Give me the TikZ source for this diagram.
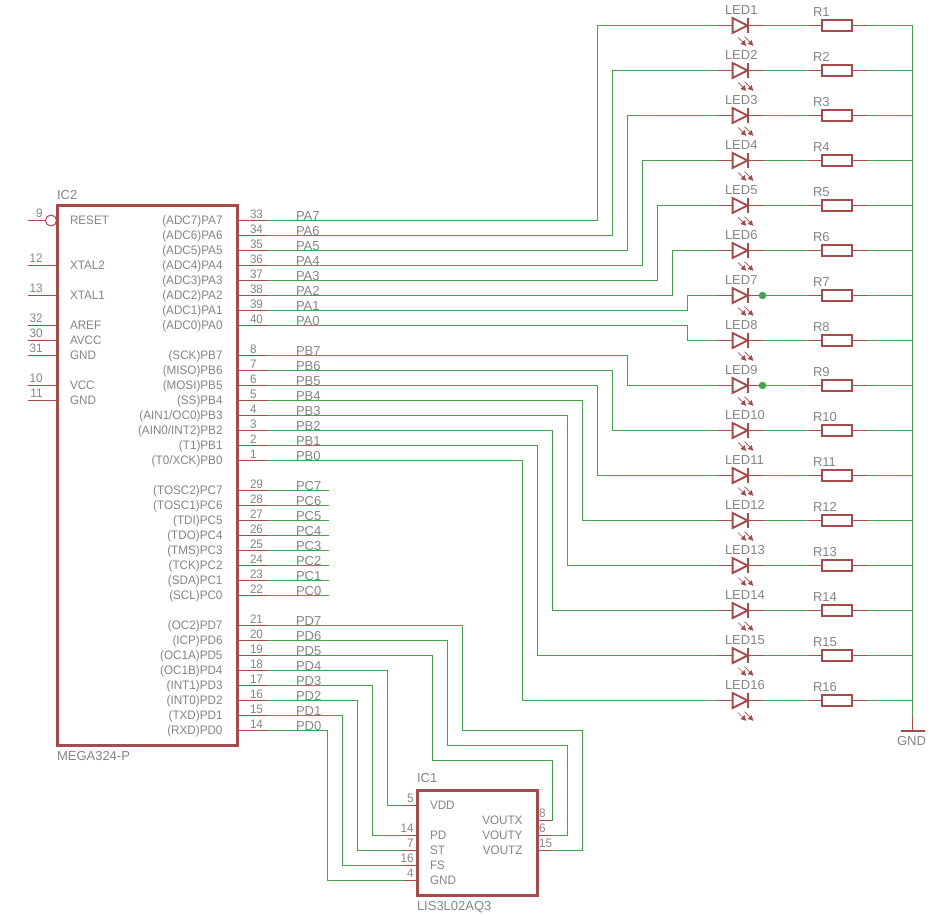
\documentclass[tikz,border=0pt]{standalone}
\usepackage{fontspec}
\setmainfont{Liberation Sans}
\newfontfamily\pinfont[FakeStretch=0.95]{Liberation Sans}
\newfontfamily\namefont{Liberation Sans}
\usetikzlibrary{arrows.meta}
\definecolor{wirecol}{HTML}{46A24C}
\definecolor{partcol}{HTML}{A54B4B}
\definecolor{textcol}{HTML}{858585}
\tikzset{
  wire/.style={draw=wirecol,line width=1pt},
  pin/.style={draw=partcol,line width=1pt},
  outline/.style={draw=partcol,line width=2.8pt,fill=white,line join=miter,outer sep=0pt},
  sym/.style={draw=partcol,line width=2pt,line join=miter},
  glow/.style={draw=partcol,line width=0.7pt,-{Latex[length=5.5pt,width=6pt]}},
  basetxt/.style={inner sep=0pt,outer sep=0pt,text=textcol},
  pname/.style={basetxt,font=\pinfont\fontsize{12.3}{12}\selectfont},
  lname/.style={basetxt,font=\namefont\fontsize{13}{13}\selectfont},
  nodedot/.style={circle,fill=wirecol,minimum size=7.5pt,inner sep=0pt}
}
\begin{document}
\begin{tikzpicture}[x=1pt,y=-1pt]
\useasboundingbox (0,0) rectangle (932,915);
\fill[white] (0,0) rectangle (932,915);
\begin{scope}[shift={(0.5,0.5)}]

% ---------- IC2
\node[outline,draw,minimum width=180pt,minimum height=540pt,inner sep=0pt,anchor=north west] (ic2) at (57,205) {};
\node[lname,anchor=base west] (ic2name) at (56.5,199) {IC2};
\node[lname,anchor=base west] (ic2val) at (56.5,760) {MEGA324-P};

% left pins
\foreach \yy/\num/\txt in {265/12/XTAL2,295/13/XTAL1,325/32/AREF,340/30/AVCC,355/31/GND,385/10/VCC,400/11/GND}{
  \coordinate (lp\num) at (57,\yy);
  \coordinate (lq\num) at (27,\yy);
  \draw[pin] (lq\num) -- (lp\num);
  \node[pname,anchor=base east] (ln\num) at (42,\yy-3) {\num};
  \node[pname,anchor=base west] (lt\num) at (69.5,\yy+4) {\txt};
}
\coordinate (rst0) at (27,220);
\node[circle,draw=partcol,line width=1pt,minimum size=11pt,inner sep=0pt,fill=white] (rstc) at (50.5,220) {};
\draw[pin] (rst0) -- (rstc.west);
\node[pname,anchor=base east] (rstn) at (42,217) {9};
\node[pname,anchor=base west] (rstt) at (69.5,224) {RESET};

% right pins: y / number / inner text / net name
\foreach \yy/\num/\txt/\net in {
 220/33/{(ADC7)PA7}/PA7,235/34/{(ADC6)PA6}/PA6,250/35/{(ADC5)PA5}/PA5,265/36/{(ADC4)PA4}/PA4,
 280/37/{(ADC3)PA3}/PA3,295/38/{(ADC2)PA2}/PA2,310/39/{(ADC1)PA1}/PA1,325/40/{(ADC0)PA0}/PA0,
 355/8/{(SCK)PB7}/PB7,370/7/{(MISO)PB6}/PB6,385/6/{(MOSI)PB5}/PB5,400/5/{(SS)PB4}/PB4,
 415/4/{(AIN1/OC0)PB3}/PB3,430/3/{(AIN0/INT2)PB2}/PB2,445/2/{(T1)PB1}/PB1,460/1/{(T0/XCK)PB0}/PB0,
 490/29/{(TOSC2)PC7}/PC7,505/28/{(TOSC1)PC6}/PC6,520/27/{(TDI)PC5}/PC5,535/26/{(TDO)PC4}/PC4,
 550/25/{(TMS)PC3}/PC3,565/24/{(TCK)PC2}/PC2,580/23/{(SDA)PC1}/PC1,595/22/{(SCL)PC0}/PC0,
 625/21/{(OC2)PD7}/PD7,640/20/{(ICP)PD6}/PD6,655/19/{(OC1A)PD5}/PD5,670/18/{(OC1B)PD4}/PD4,
 685/17/{(INT1)PD3}/PD3,700/16/{(INT0)PD2}/PD2,715/15/{(TXD)PD1}/PD1,730/14/{(RXD)PD0}/PD0}{
  \coordinate (b\net) at (237,\yy);
  \coordinate (e\net) at (267,\yy);
  \draw[pin] (b\net) -- (e\net);
  \node[pname,anchor=base west] (n\net) at (249.5,\yy-2) {\num};
  \node[pname,anchor=base east] (t\net) at (222,\yy+4) {\txt};
  \node[lname,anchor=base west] (l\net) at (295.5,\yy) {\net};
}
% unconnected port C stubs
\foreach \net/\yy in {PC7/490,PC6/505,PC5/520,PC4/535,PC3/550,PC2/565,PC1/580,PC0/595}{
  \coordinate (s\net) at (328,\yy);
  \draw[wire] (e\net) -- (s\net);
}

% ---------- LEDs and resistors; bus
\coordinate (bustop) at (912,25);
\coordinate (busend) at (912,715);
\coordinate (gndpt) at (912,730);
\foreach \i [evaluate=\i as \yy using {int(25+45*(\i-1))}] in {1,...,16}{
  \coordinate (la\i) at (717,\yy);
  \coordinate (lb\i) at (732,\yy);
  \coordinate (lc\i) at (747,\yy);
  \coordinate (ld\i) at (763,\yy);
  \coordinate (ra\i) at (807,\yy);
  \coordinate (rd\i) at (867,\yy);
  \coordinate (bus\i) at (912,\yy);
  \draw[pin] (la\i) -- (lb\i);
  \draw[pin] (lc\i) -- (ld\i);
  \draw[sym] (732,\yy-7.5) -- (747,\yy) -- (732,\yy+7.5) -- cycle;
  \draw[sym] (747,\yy-7.5) -- (747,\yy+7.5);
  \draw[glow] (737.5,\yy+12) -- (746,\yy+20.5);
  \draw[glow] (744,\yy+11) -- (753,\yy+20.5);
  \node[lname,anchor=base west] (ledn\i) at (724.5,\yy-11) {LED\i};
  \node[draw=partcol,line width=2pt,minimum width=30pt,minimum height=10.5pt,inner sep=0pt,outer sep=0pt] (rb\i) at (836.5,\yy) {};
  \draw[pin] (ra\i) -- (rb\i.west);
  \draw[pin] (rb\i.east) -- (rd\i);
  \node[lname,anchor=base west] (rn\i) at (812.5,\yy-9) {R\i};
  \draw[wire] (ld\i) -- (ra\i);
  \draw[wire] (rd\i) -- (bus\i);
}
\draw[wire] (bustop) -- (busend);
\draw[pin] (busend) -- (gndpt);
\coordinate (gndl) at (900,730);
\coordinate (gndr) at (924,730);
\draw[draw=partcol,line width=2pt] (gndl) -- (gndr);
\node[lname,anchor=base west] (gndt) at (896.5,745) {GND};

% port to LED routing: net / LED number / vertical x
\foreach \net/\i/\xx in {PA7/1/597,PA6/2/612,PA5/3/627,PA4/4/642,PA3/5/657,PA2/6/672,PA1/7/687,PA0/8/687,
  PB7/9/627,PB6/10/612,PB5/11/597,PB4/12/582,PB3/13/567,PB2/14/552,PB1/15/537,PB0/16/522}{
  \draw[wire] (e\net) -| (\xx,0 |- la\i) -- (la\i);
}
\node[nodedot] (dot7) at (762,295) {};
\node[nodedot] (dot9) at (762,385) {};

% ---------- IC1
\node[outline,draw,minimum width=120pt,minimum height=105pt,inner sep=0pt,anchor=north west] (ic1) at (417,790) {};
\node[lname,anchor=base west] (ic1name) at (416.5,782) {IC1};
\node[lname,anchor=base west] (ic1val) at (416.5,910) {LIS3L02AQ3};
\foreach \yy/\num/\txt in {805/5/VDD,835/14/PD,850/7/ST,865/16/FS,880/4/GND}{
  \coordinate (ia\num) at (402,\yy);
  \coordinate (ib\num) at (417,\yy);
  \draw[pin] (ia\num) -- (ib\num);
  \node[pname,anchor=base east] (in\num) at (413,\yy-3) {\num};
  \node[pname,anchor=base west] (it\num) at (429.5,\yy+4) {\txt};
}
\foreach \yy/\num/\txt in {820/8/VOUTX,835/6/VOUTY,850/15/VOUTZ}{
  \coordinate (ja\num) at (552,\yy);
  \coordinate (jb\num) at (537,\yy);
  \draw[pin] (jb\num) -- (ja\num);
  \node[pname,anchor=base west] (jn\num) at (538.5,\yy-3) {\num};
  \node[pname,anchor=base east] (jt\num) at (522,\yy+4) {\txt};
}
% port D to IC1
\foreach \net/\xx/\pinn in {PD0/327/4,PD1/342/16,PD2/357/7,PD3/372/14,PD4/387/5}{
  \draw[wire] (e\net) -| (\xx,0 |- ia\pinn) -- (ia\pinn);
}
\foreach \net/\xa/\ya/\xb/\pinn in {PD5/432/760/552/8,PD6/447/745/567/6,PD7/462/730/582/15}{
  \draw[wire] (e\net) -| (\xa,\ya) -- (\xb,\ya) |- (ja\pinn);
}
\end{scope}
\end{tikzpicture}
\end{document}
